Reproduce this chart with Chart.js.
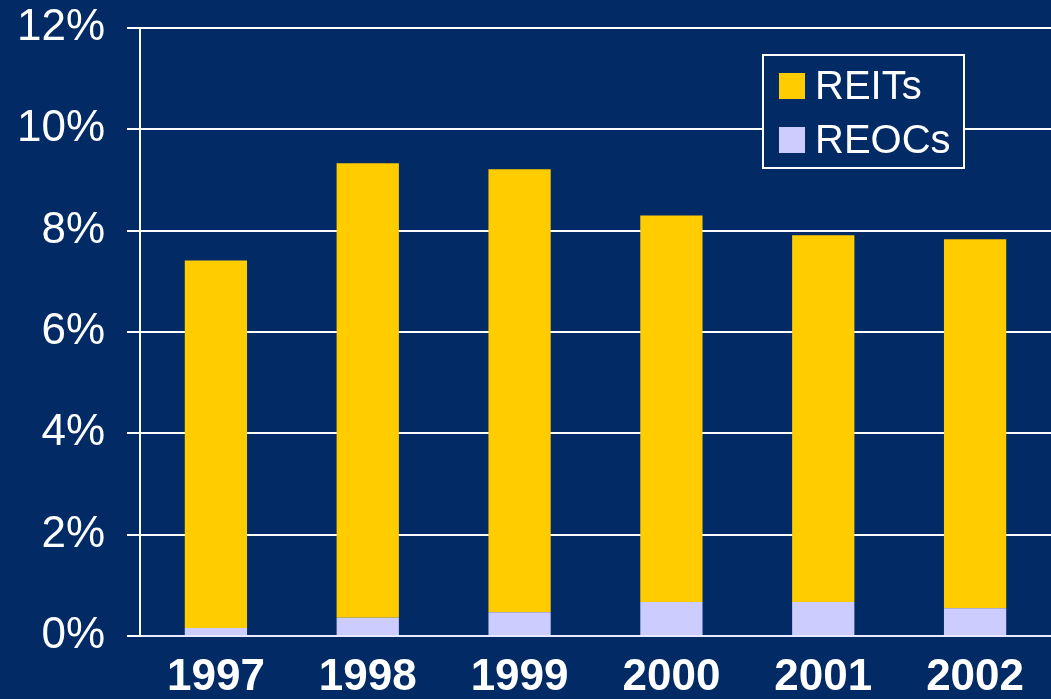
<!DOCTYPE html>
<html>
<head>
<meta charset="utf-8">
<script src="https://cdn.jsdelivr.net/npm/chart.js@4/dist/chart.umd.min.js"></script>
<style>
  html, body { margin: 0; padding: 0; background: #022b66; }
  #wrap { width: 1051px; height: 699px; }
</style>
</head>
<body>
<div id="wrap"><canvas id="barCanvas"></canvas></div>
<script>
// data
const years = ['1997', '1998', '1999', '2000', '2001', '2002'];
const reocValues = [0.16, 0.36, 0.47, 0.67, 0.67, 0.55];
const reitValues = [7.25, 8.97, 8.74, 7.63, 7.24, 7.28];
const yTicks = [0, 2, 4, 6, 8, 10, 12];

const bgColor = '#022b66';
const fontFamily = '"Liberation Sans", Arial, sans-serif';

// legend drawn inside the plot, REITs on top
const boxLegend = {
  id: 'boxLegend',
  afterDraw(chart) {
    const { ctx, chartArea } = chart;
    const x = chartArea.right - 288;
    const y = chartArea.top + 27;
    const w = 201, h = 113;
    ctx.save();
    ctx.fillStyle = bgColor;
    ctx.fillRect(x, y, w, h);
    ctx.strokeStyle = '#ffffff';
    ctx.lineWidth = 2;
    ctx.strokeRect(x, y, w, h);
    const items = chart.data.datasets.slice().reverse();
    ctx.font = '40px ' + fontFamily;
    ctx.textBaseline = 'middle';
    items.forEach((ds, i) => {
      const cy = y + 31 + i * 54;
      ctx.fillStyle = ds.backgroundColor;
      ctx.fillRect(x + 16, cy - 13, 26, 26);
      ctx.fillStyle = '#ffffff';
      ctx.fillText(ds.label, x + 52, cy + 2);
    });
    ctx.restore();
  }
};

const ctxBar = document.getElementById('barCanvas').getContext('2d');
const barChart = new Chart(ctxBar, {
  type: 'bar',
  data: {
    labels: years,
    datasets: [
      {
        label: 'REOCs',
        data: reocValues,
        backgroundColor: '#ccccff',
        barPercentage: 0.41,
        categoryPercentage: 1
      },
      {
        label: 'REITs',
        data: reitValues,
        backgroundColor: '#ffcc00',
        barPercentage: 0.41,
        categoryPercentage: 1
      }
    ]
  },
  options: {
    responsive: true,
    maintainAspectRatio: false,
    animation: false,
    layout: { padding: { top: 28, right: 0, bottom: 0, left: 0 } },
    scales: {
      x: {
        stacked: true,
        grid: { display: false, drawTicks: false },
        border: { display: true, color: '#e8e8ff', width: 2 },
        ticks: {
          color: '#ffffff',
          padding: 15,
          font: { family: fontFamily, size: 44, weight: 'bold' }
        },
        afterFit(scale) {
          scale.height = 63;
          scale.paddingLeft = 0;
          scale.paddingRight = 0;
        }
      },
      y: {
        stacked: true,
        min: 0,
        max: 12,
        afterBuildTicks(scale) { scale.ticks = yTicks.map(v => ({ value: v })); },
        grid: { color: '#ffffff', lineWidth: 2, tickLength: 13, drawTicks: true },
        border: { display: true, color: '#ffffff', width: 2 },
        ticks: {
          color: '#ffffff',
          padding: 22,
          font: { family: fontFamily, size: 44 },
          callback: v => v + '%'
        },
        afterFit(scale) {
          scale.width = 140;
          scale.paddingTop = 0;
          scale.paddingBottom = 0;
        }
      }
    },
    plugins: {
      legend: { display: false },
      tooltip: { enabled: false }
    }
  },
  plugins: [boxLegend]
});
</script>
</body>
</html>
